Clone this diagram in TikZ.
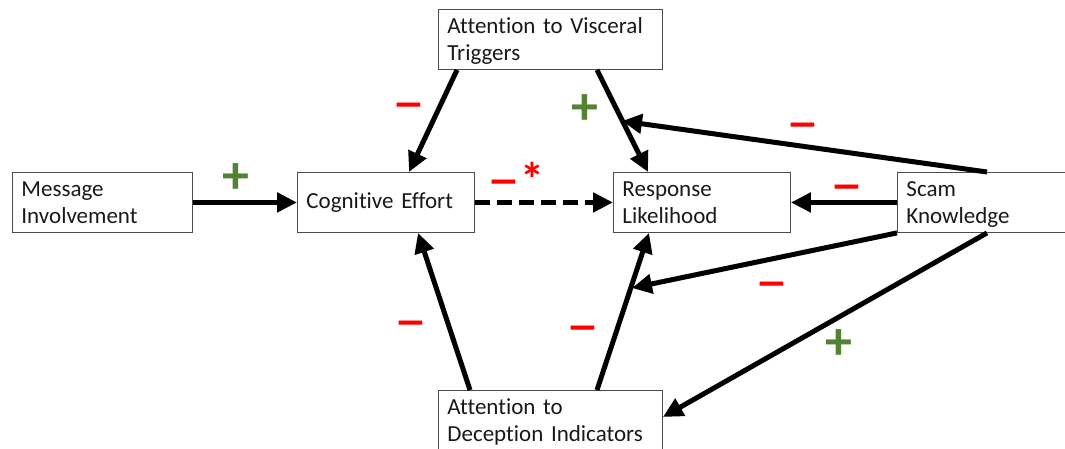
\documentclass[tikz,border=0pt]{standalone}
\usepackage{fontspec}
\setmainfont{Carlito}[Ligatures=NoCommon]
\usetikzlibrary{arrows.meta}
\definecolor{pgreen}{RGB}{84,130,53}
\definecolor{pred}{RGB}{255,0,0}
\newcommand\tstr{\rule{0pt}{24pt}}
\newcommand\bstr{\rule[-9pt]{0pt}{9pt}}
\begin{document}
\begin{tikzpicture}[x=1pt,y=-1pt,
  box/.style={draw=black!70, line width=0.9pt, inner xsep=9pt, inner ysep=0pt,
    align=left, minimum height=60pt, anchor=north west,
    font=\fontsize{23}{27}\selectfont, text=black!90},
  arr/.style={line width=5pt, -{Triangle[length=20pt,width=19pt]}},
  mns/.style={text=pred, font=\fontsize{66}{66}\selectfont, inner sep=0pt, yshift=-11pt},
  pls/.style={text=pgreen, font=\bfseries\fontsize{54}{54}\selectfont, inner sep=0pt, yshift=-2pt}]
\useasboundingbox (0,0) rectangle (1065,448);
\clip (0,0) rectangle (1065,448);
% boxes
\node[box, text width=162pt] (mi) at (12,172) {\tstr Message\\ Involvement\bstr};
\node[box, text width=159pt] (ce) at (297,172) {Cognitive Effort};
\node[box, text width=159pt] (rl) at (613,172) {\tstr Response\\ Likelihood\bstr};
\node[box, text width=162pt] (sk) at (897,172) {\tstr Scam\\ Knowledge\bstr};
\node[box, text width=206pt] (av) at (438,9) {\tstr Attention to Visceral\\ Triggers\bstr};
\node[box, text width=206pt] (ad) at (438,390) {\tstr Attention to\\ Deception Indicators\bstr};
% connectors
\draw[arr] (mi.east) -- (ce.west);
\draw[arr, dash pattern=on 15pt off 7pt] (ce.east) -- (rl.west);
\draw[arr] (sk.west) -- (rl.east);
\draw[arr] ([xshift=19pt]av.south west) -- ([xshift=112pt]ce.north west);
\draw[arr] ([xshift=159pt]av.south west) -- ([xshift=35pt]rl.north west);
\coordinate (p1) at (622,121);
\draw[arr] ([xshift=90pt]sk.north west) -- (p1);
\draw[arr] ([xshift=32pt]ad.north west) -- ([xshift=121pt]ce.south west);
\draw[arr] ([xshift=159pt]ad.north west) -- ([xshift=36pt]rl.south west);
\coordinate (p2) at (632,288);
\draw[arr] (sk.south west) -- (p2);
\draw[arr] ([xshift=90pt]sk.south west) -- ([yshift=-27pt]ad.north east);
% signs
\node[pls] (s1) at (236,177) {+};
\node[pls] (s2) at (585,108) {+};
\node[pls] (s3) at (839,343) {+};
\node[mns] (m1) at (409,102) {–};
\node[mns] (m2) at (411,320) {–};
\node[mns] (m3) at (583,325) {–};
\node[mns] (m4) at (504,179) {–\rlap{\smash{\raisebox{4pt}{\bfseries\fontsize{48}{48}\selectfont *}}}};
\node[mns] (m5) at (803,122) {–};
\node[mns] (m6) at (847,184) {–};
\node[mns] (m7) at (772,281) {–};
\end{tikzpicture}
\end{document}
